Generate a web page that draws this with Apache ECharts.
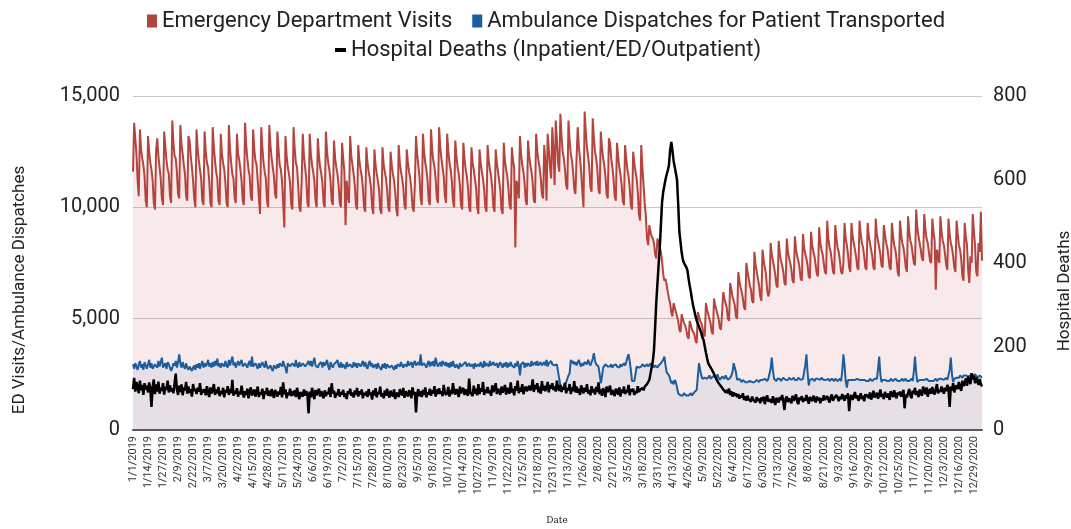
<!DOCTYPE html>
<html>
<head>
<meta charset="utf-8">
<script src="https://cdn.jsdelivr.net/npm/echarts@6/dist/echarts.min.js"></script>
<style>
  html, body { margin: 0; padding: 0; background: #fff; }
  #chart { width: 1071px; height: 529px; }
</style>
</head>
<body>
<div id="chart"></div>
<script>
// daily series, 1/1/2019 onward; one line per week (Mon..Sun), first line starts Tue 1/1/2019
const START = [2019, 0, 1];

const edVisits = [
  11600, 13800, 13100, 12400, 11200, 10500,
  13500, 12600, 12200, 11900, 11400, 10300, 10000,
  13200, 12500, 12000, 11700, 11200, 10200, 9900,
  12600, 13100, 12300, 11800, 11300, 10400, 10100,
  13400, 12700, 12100, 11700, 11500, 10500, 10200,
  13900, 12900, 12300, 12200, 11600, 10600, 10400,
  13700, 12800, 12400, 11900, 11500, 10500, 10300,
  13200, 13000, 12300, 11800, 11200, 10400, 10000,
  13500, 12600, 12100, 11700, 11300, 10300, 10100,
  13400, 12500, 12000, 11800, 11200, 10200, 10000,
  13600, 12700, 12100, 11600, 11300, 10300, 10100,
  13300, 12400, 12000, 11700, 11100, 10200, 10000,
  13700, 12600, 12000, 11500, 11300, 10400, 10200,
  13300, 12400, 12100, 11700, 11200, 10300, 10100,
  13800, 12800, 12200, 11700, 11400, 10500, 10300,
  13500, 12600, 12100, 11900, 11200, 10400, 9700,
  13600, 12700, 12000, 11600, 11300, 10300, 10000,
  13700, 12800, 12200, 11800, 11400, 10600, 10400,
  13400, 12600, 11900, 11700, 11200, 10200, 9100,
  13200, 12300, 11800, 11500, 11100, 10100, 9900,
  13600, 12600, 12000, 11800, 11000, 10000, 9800,
  11200, 13300, 12300, 11800, 11300, 10200, 10000,
  13300, 12400, 11900, 11600, 11200, 10300, 10000,
  13100, 12300, 11800, 11500, 11100, 10200, 10000,
  13400, 12500, 12000, 11700, 11200, 10300, 10100,
  13000, 12200, 11800, 11500, 11000, 10200, 10000,
  12900, 12200, 11600, 9200, 11200, 10500, 10200,
  13200, 12300, 11900, 11500, 11000, 10100, 9900,
  12800, 12100, 11700, 11400, 10900, 10000, 9800,
  12700, 12000, 11600, 11300, 10900, 10000, 9700,
  12600, 11900, 11500, 11200, 10800, 9900, 9700,
  12700, 11900, 11600, 11300, 10800, 10000, 9800,
  12500, 11900, 11500, 11200, 10700, 9900, 9600,
  12800, 12000, 11600, 11300, 10900, 10100, 9900,
  12600, 12000, 11600, 11300, 10800, 10000, 9800,
  11000, 13200, 12400, 11900, 11400, 10400, 10100,
  13300, 12500, 12000, 11700, 11200, 10300, 10100,
  13500, 12600, 12100, 11800, 11300, 10400, 10200,
  13600, 12700, 12200, 11800, 11400, 10500, 10200,
  13300, 12500, 12000, 11700, 11200, 10300, 10000,
  13000, 12300, 11800, 11500, 11000, 10100, 9900,
  12900, 12200, 11700, 11400, 10900, 10000, 9800,
  12700, 12000, 11700, 11300, 10900, 10000, 9700,
  12600, 12000, 11600, 11300, 10800, 10000, 9800,
  12800, 12100, 11700, 11400, 10900, 10000, 9800,
  12600, 12000, 11600, 11200, 10800, 9900, 9700,
  12900, 12100, 11700, 11400, 10900, 10100, 9900,
  12700, 12100, 11800, 8200, 11200, 10900, 10400,
  13200, 12400, 11900, 11600, 11100, 10300, 10100,
  13000, 12300, 11900, 11600, 11100, 10300, 10200,
  13300, 12500, 12100, 11800, 11300, 10600, 10400,
  12800, 12000, 10300, 13300, 12600, 11800, 11300,
  13600, 12500, 11000, 13900, 13000, 12000, 11600,
  14200, 13200, 12500, 12200, 11700, 11000, 10800,
  13900, 13000, 12400, 12100, 11600, 10800, 10600,
  12200, 13600, 12700, 12200, 11600, 10700, 10000,
  14300, 13400, 12700, 12300, 11800, 10900, 10700,
  14000, 13100, 12500, 12200, 11700, 10800, 10600,
  13400, 12700, 12200, 11900, 11400, 10600, 10400,
  13100, 12900, 12200, 11800, 11300, 10500, 10300,
  12900, 12300, 11800, 11500, 11000, 10300, 10100,
  12800, 12200, 11700, 11400, 10900, 10100, 9900,
  12500, 12000, 11600, 11300, 10700, 9700, 9400,
  12800, 11800, 11000, 10200, 9600, 8600, 8300,
  9200, 8900, 8700, 8600, 8400, 7900, 7700,
  8600, 8400, 8200, 8000, 7600, 7000, 6700,
  6800, 6500, 6200, 5900, 5700, 5300, 5100,
  5700, 5500, 5300, 5100, 4900, 4500, 4400,
  5200, 5000, 4800, 4700, 4500, 4200, 4100,
  4900, 4700, 4500, 4400, 4300, 4000, 3900,
  5300, 5100, 4900, 4800, 4600, 4300, 4200,
  5700, 5400, 5200, 5000, 4800, 4400, 4300,
  5900, 5600, 5400, 5200, 5000, 4600, 4500,
  5300, 6200, 5900, 5700, 5500, 5000, 4900,
  6600, 6300, 6000, 5800, 5600, 5100, 5000,
  7100, 6700, 6400, 6200, 5900, 5500, 5400,
  7500, 7100, 6800, 6500, 6300, 5800, 5700,
  8000, 7400, 7100, 6800, 6500, 6000, 5800,
  8100, 7600, 7300, 7000, 6300, 6000, 6200,
  8400, 7900, 7600, 7300, 7000, 6500, 6400,
  8500, 7900, 7600, 7400, 7100, 6600, 6500,
  8600, 8000, 7700, 7500, 7200, 6700, 6600,
  8700, 8100, 7800, 7600, 7300, 6800, 6700,
  8800, 8200, 7900, 7700, 7400, 6900, 6800,
  8900, 8300, 8000, 7800, 7400, 7000, 6900,
  9100, 8400, 8100, 7900, 7500, 7100, 7000,
  9400, 8600, 8200, 8000, 7600, 7100, 7000,
  9200, 8600, 8200, 8000, 7600, 7100, 7000,
  7500, 9300, 8600, 8300, 7900, 7300, 7100,
  9300, 8700, 8400, 8100, 7800, 7300, 7200,
  9400, 8800, 8400, 8200, 7800, 7300, 7200,
  9300, 8700, 8400, 8100, 7800, 7300, 7200,
  9500, 8800, 8500, 8200, 7900, 7400, 7300,
  9200, 8800, 8400, 8200, 7800, 7300, 7200,
  9300, 8700, 8300, 8100, 7700, 7100, 6900,
  9400, 8800, 8400, 8200, 7800, 7300, 7100,
  9600, 8900, 8500, 8300, 7900, 7500, 7400,
  9900, 9100, 8700, 8400, 8100, 7700, 7600,
  9700, 9000, 8600, 8400, 8000, 7600, 7500,
  9500, 8900, 8500, 6300, 8100, 7800, 7500,
  9600, 8900, 8500, 8300, 7900, 7400, 7200,
  9500, 8800, 8400, 8200, 7800, 7300, 7100,
  9400, 8800, 8300, 8100, 7700, 6900, 6700,
  9300, 8700, 8300, 7200, 6600, 7800, 7500,
  9700, 8900, 8300, 7100, 6900, 8400, 8000,
  9800, 7600
];

const ambulance = [
  2950, 2750, 3000, 2850, 2700, 2950,
  3100, 2800, 2950, 2700, 3050, 2900, 2750,
  2950, 3150, 2800, 3000, 2750, 2700, 2950,
  3000, 2800, 3100, 2850, 3050, 3250, 2800,
  2850, 3000, 2750, 3050, 2950, 2800, 2650,
  2800, 3000, 2900, 3100, 2800, 3050, 3400,
  3000, 2800, 3050, 2850, 2750, 3000, 2800,
  2700, 2850, 2750, 2650, 2800, 2900, 2700,
  2950, 2800, 3000, 2750, 2950, 3100, 2800,
  3000, 2850, 2950, 3150, 2850, 3000, 2800,
  3050, 2850, 3100, 2900, 3200, 2850, 3000,
  2800, 3000, 3050, 2850, 3100, 2900, 2800,
  3150, 2900, 2950, 3300, 2900, 3050, 2800,
  2850, 3100, 2900, 3050, 3150, 2850, 2800,
  3000, 2950, 2800, 3000, 3100, 2850, 3300,
  2850, 2800, 3000, 3050, 2750, 3000, 2800,
  2950, 3050, 2900, 2800, 3100, 2850, 2750,
  2700, 2900, 2750, 2650, 2900, 2950, 2750,
  2950, 2800, 3000, 3050, 2850, 3100, 2900,
  2800, 2550, 3000, 3050, 2850, 2800, 3000,
  3050, 2850, 3150, 2900, 2800, 3050, 2850,
  2800, 3000, 3050, 2850, 2800, 3000, 3100,
  2900, 3100, 2850, 3050, 3250, 2900, 2850,
  2800, 2950, 2900, 3050, 2800, 3050, 2900,
  3000, 3150, 2850, 2700, 3050, 2900, 2800,
  2950, 2900, 3050, 3150, 2900, 2800, 3050,
  2800, 2950, 2900, 2750, 3050, 2850, 2800,
  2950, 2900, 2800, 3050, 2850, 3000, 2800,
  3000, 3050, 2850, 2800, 3100, 2850, 3050,
  2850, 2750, 3000, 3100, 2850, 3000, 2800,
  2800, 2950, 2750, 3000, 2850, 2800, 2700,
  2950, 2800, 3000, 2750, 2950, 3000, 2800,
  2750, 2900, 2850, 2700, 2900, 2750, 2950,
  3000, 2850, 3050, 2900, 2800, 2950, 3000,
  2850, 3100, 2900, 2850, 3050, 2800, 3000,
  3100, 2900, 2850, 3050, 2900, 3400, 2900,
  2850, 3000, 3050, 2800, 3000, 3100, 2850,
  3050, 2900, 3100, 2850, 3250, 3000, 2850,
  2900, 3050, 2850, 3100, 3000, 2900, 3050,
  2850, 3000, 2800, 3050, 2850, 3100, 2900,
  2800, 2950, 3000, 2750, 3000, 2850, 2800,
  2950, 2900, 3050, 2850, 2800, 3000, 2850,
  2800, 2950, 2750, 3000, 2850, 2800, 2950,
  2850, 3050, 2900, 2800, 3100, 2850, 3000,
  3050, 2850, 3100, 2900, 2850, 3050, 2900,
  2850, 3000, 2800, 2950, 3050, 2900, 2800,
  3000, 2850, 3050, 2800, 3000, 2850, 3050,
  2900, 2950, 2800, 3000, 2850, 3100, 2900,
  2450, 2950, 2900, 3050, 2800, 3000, 2850,
  3000, 2950, 2850, 3100, 2900, 2850, 3050,
  2900, 3100, 2900, 2850, 3050, 2900, 2850,
  3050, 2900, 3150, 2850, 3000, 2950, 3100,
  2950, 3000, 2900, 2850, 2950, 2600, 2300,
  2000, 1900, 1950, 1900, 2050, 2150, 2300,
  2450, 2550, 3150, 3000, 3100, 2950, 3050,
  2900, 3050, 3150, 2950, 2850, 3000, 2900,
  3050, 3100, 2950, 3150, 3000, 2900, 3050,
  3200, 3450, 3100, 2950, 3000, 2850, 2500,
  2100, 2400, 2800, 2850, 2950, 2900, 2850,
  2900, 2850, 2950, 2800, 2900, 2850, 2950,
  2850, 2900, 2800, 2950, 2850, 2900, 3000,
  2900, 3050, 3250, 3400, 3100, 2700, 2200,
  2150, 2200, 2500, 2850, 2900, 2800, 2850,
  2850, 2950, 3000, 2850, 2900, 2950, 2850,
  2900, 3000, 2850, 2950, 2800, 2900, 2850,
  2800, 2900, 2950, 3000, 3050, 3150, 3300,
  2900, 2600, 2550, 2450, 2300, 2100, 2200,
  2050, 2250, 2150, 1900, 1650, 1600, 1550,
  1600, 1550, 1650, 1600, 1550, 1600, 1550,
  1600, 1650, 1550, 1600, 1700, 1650, 1800,
  2400, 3000, 2700, 2450, 2300, 2250, 2350,
  2400, 2300, 2350, 2450, 2300, 2250, 2400,
  2350, 2400, 2300, 2500, 2350, 2250, 2300,
  2400, 2350, 2300, 2450, 2400, 2250, 2300,
  2350, 2450, 2600, 3000, 3050, 2600, 2250,
  2200, 2300, 2250, 2150, 2250, 2200, 2150,
  2200, 2150, 2100, 2200, 2250, 2150, 2100,
  2150, 2200, 2250, 2200, 2150, 2250, 2200,
  2250, 2200, 2300, 2250, 2200, 2300, 2250,
  2750, 3250, 2700, 2300, 2250, 2200, 2300,
  2250, 2300, 2200, 2250, 2350, 2300, 2250,
  2300, 2250, 2350, 2300, 2250, 2300, 2350,
  2250, 2300, 2250, 2350, 2300, 2250, 2300,
  2300, 2350, 2900, 3400, 2600, 2000, 2250,
  2250, 2300, 2250, 2200, 2300, 2250, 2300,
  2300, 2250, 2350, 2300, 2250, 2200, 2250,
  2250, 2300, 2200, 2250, 2300, 2250, 2200,
  2300, 2250, 2200, 2250, 2300, 2200, 2650,
  3400, 2900, 2200, 1900, 2250, 2300, 2250,
  2200, 2250, 2300, 2250, 2200, 2300, 2250,
  2250, 2300, 2250, 2200, 2250, 2300, 2200,
  2250, 2200, 2300, 2250, 2200, 2250, 2300,
  2250, 2300, 2750, 3300, 2500, 2150, 2250,
  2200, 2250, 2300, 2200, 2250, 2200, 2300,
  2250, 2200, 2250, 2300, 2250, 2200, 2250,
  2200, 2250, 2300, 2200, 2250, 2300, 2200,
  2250, 2200, 2250, 2300, 2200, 2650, 3300,
  2600, 2150, 2200, 2250, 2200, 2250, 2300,
  2250, 2200, 2300, 2250, 2200, 2250, 2200,
  2250, 2200, 2250, 2300, 2200, 2250, 2300,
  2250, 2300, 2350, 2250, 2300, 2350, 2250,
  2300, 2700, 3250, 2500, 2150, 2300, 2350,
  2350, 2400, 2350, 2450, 2400, 2350, 2450,
  2400, 2450, 2500, 2400, 2350, 2450, 2500,
  2450, 2400, 2500, 2450, 2350, 2400, 2450,
  2400, 2350
];

const deaths = [
  98, 125, 92, 115, 104, 88,
  118, 95, 108, 84, 112, 97, 106,
  90, 114, 99, 55, 103, 121, 86,
  109, 92, 116, 87, 101, 94, 112,
  85, 104, 96, 118, 90, 107, 93,
  100, 88, 112, 135, 97, 84, 106,
  91, 109, 83, 102, 95, 115, 87,
  104, 89, 98, 80, 110, 93, 99,
  86, 101, 92, 112, 84, 97, 90,
  98, 83, 105, 90, 79, 102, 88,
  95, 110, 84, 97, 88, 103, 81,
  93, 86, 101, 78, 96, 90, 105,
  84, 98, 88, 120, 82, 94, 87,
  100, 80, 92, 85, 106, 89, 78,
  93, 84, 99, 76, 91, 102, 83,
  88, 97, 80, 92, 104, 79, 90,
  85, 99, 74, 93, 86, 101, 82,
  94, 81, 98, 87, 77, 96, 89,
  80, 92, 85, 103, 78, 114, 86,
  97, 76, 90, 84, 99, 81, 93,
  83, 95, 79, 101, 86, 74, 91,
  88, 80, 97, 82, 93, 85, 40,
  92, 78, 101, 85, 74, 96, 83,
  87, 99, 80, 93, 84, 76, 95,
  81, 91, 86, 102, 79, 112, 88,
  94, 77, 89, 83, 98, 80, 91,
  85, 96, 79, 88, 74, 93, 86,
  99, 82, 90, 78, 95, 84, 101,
  80, 93, 85, 97, 76, 89, 83,
  92, 79, 98, 84, 90, 73, 95,
  83, 100, 78, 91, 86, 104, 80,
  88, 76, 95, 82, 99, 85, 78,
  94, 86, 80, 97, 74, 90, 84,
  79, 98, 88, 83, 101, 77, 93,
  86, 80, 95, 89, 76, 102, 84,
  91, 42, 87, 98, 81, 93, 79,
  96, 84, 102, 78, 90, 85, 99,
  82, 95, 88, 105, 80, 97, 86,
  100, 87, 93, 81, 108, 90, 84,
  89, 103, 80, 96, 86, 112, 92,
  85, 98, 91, 79, 104, 88, 95,
  101, 84, 97, 89, 82, 123, 90,
  94, 81, 106, 87, 99, 83, 110,
  86, 100, 92, 115, 84, 97, 89,
  103, 88, 95, 82, 107, 91, 98,
  112, 86, 99, 93, 84, 104, 90,
  96, 108, 85, 101, 92, 87, 114,
  90, 99, 83, 105, 94, 118, 88,
  101, 92, 110, 86, 97, 104, 93,
  89, 106, 95, 100, 121, 91, 108,
  98, 112, 90, 104, 87, 117, 95,
  106, 93, 101, 115, 90, 108, 99,
  112, 96, 104, 92, 118, 101, 94,
  108, 91, 103, 97, 113, 88, 100,
  95, 110, 86, 102, 93, 117, 90,
  104, 89, 99, 84, 107, 96, 88,
  101, 92, 110, 87, 96, 83, 105,
  90, 98, 85, 103, 91, 114, 86,
  97, 82, 100, 93, 79, 104, 91,
  88, 106, 84, 96, 90, 81, 99,
  93, 85, 102, 80, 97, 89, 104,
  86, 95, 90, 108, 83, 98, 92,
  99, 84, 93, 88, 105, 91, 96,
  92, 101, 95, 104, 100, 110, 115,
  120, 135, 150, 165, 190, 245, 305,
  350, 395, 435, 490, 545, 570, 585,
  600, 612, 622, 635, 670, 690, 670,
  645, 630, 615, 598, 540, 475, 450,
  425, 408, 400, 395, 390, 382, 362,
  345, 330, 312, 297, 285, 272, 262,
  255, 247, 240, 232, 222, 215, 200,
  185, 172, 160, 155, 150, 145, 140,
  136, 128, 122, 118, 112, 108, 105,
  106, 97, 101, 90, 96, 88, 99,
  84, 93, 80, 90, 82, 88, 79,
  86, 75, 83, 78, 88, 72, 81,
  70, 82, 74, 78, 68, 80, 73,
  77, 66, 79, 70, 75, 64, 78,
  69, 80, 62, 75, 83, 68, 74,
  78, 65, 81, 70, 60, 77, 71,
  66, 79, 72, 84, 68, 48, 75,
  80, 67, 76, 71, 64, 82, 70,
  73, 85, 68, 62, 78, 72, 81,
  67, 76, 70, 84, 73, 63, 79,
  75, 69, 82, 74, 66, 80, 71,
  78, 64, 76, 70, 83, 72, 68,
  81, 73, 66, 79, 85, 70, 76,
  72, 84, 77, 69, 80, 74, 86,
  79, 70, 83, 75, 88, 45, 78,
  84, 72, 80, 91, 76, 83, 70,
  77, 88, 74, 82, 69, 86, 79,
  85, 76, 90, 73, 81, 94, 78,
  80, 89, 75, 84, 97, 79, 86,
  74, 91, 83, 78, 88, 72, 93,
  87, 79, 95, 82, 76, 90, 84,
  92, 80, 87, 96, 52, 85, 78,
  89, 98, 83, 76, 94, 87, 101,
  84, 93, 79, 97, 88, 82, 104,
  95, 86, 102, 80, 91, 99, 87,
  103, 90, 85, 98, 110, 88, 96,
  91, 104, 96, 87, 101, 93, 108,
  99, 55, 104, 95, 112, 90, 102,
  107, 98, 115, 102, 94, 118, 105,
  112, 124, 106, 128, 116, 110, 136,
  121, 130, 112, 126, 117, 108, 122,
  110, 104
];

const seriesNames = [
  'Emergency Department Visits',
  'Ambulance Dispatches for Patient Transported',
  'Hospital Deaths (Inpatient/ED/Outpatient)'
];

if (edVisits.length !== ambulance.length || edVisits.length !== deaths.length) {
  throw new Error('length mismatch ' + edVisits.length + ' ' + ambulance.length + ' ' + deaths.length);
}

// category labels: one date per data point
const dates = [];
for (let i = 0; i < edVisits.length; i++) {
  const d = new Date(Date.UTC(START[0], START[1], START[2] + i));
  dates.push((d.getUTCMonth() + 1) + '/' + d.getUTCDate() + '/' + d.getUTCFullYear());
}

const FONT = 'Roboto, "Noto Sans", sans-serif';
const chart = echarts.init(document.getElementById('chart'), null, { renderer: 'canvas' });

chart.setOption({
  animation: false,
  backgroundColor: '#fff',
  grid: { left: 133, right: 89, top: 96, bottom: 99 },
  legend: [
    {
      top: 5, left: 142, itemGap: 20,
      itemWidth: 10, itemHeight: 13,
      textStyle: { fontFamily: FONT, fontSize: 22, color: '#222' },
      data: [
        { name: seriesNames[0], icon: 'rect', itemStyle: { color: '#b5443f' } },
        { name: seriesNames[1], icon: 'rect', itemStyle: { color: '#1c5d9e' } }
      ]
    },
    {
      top: 34, left: 330,
      itemWidth: 11, itemHeight: 4,
      textStyle: { fontFamily: FONT, fontSize: 22, color: '#222' },
      data: [{ name: seriesNames[2], icon: 'rect', itemStyle: { color: '#000' } }]
    }
  ],
  xAxis: {
    type: 'category',
    data: dates,
    boundaryGap: false,
    axisLine: { lineStyle: { color: '#555', width: 2 } },
    axisTick: { show: false },
    axisLabel: {
      interval: 12, rotate: 90, margin: 6,
      fontFamily: FONT, fontSize: 11, color: '#333'
    },
    splitLine: { show: false }
  },
  yAxis: [
    {
      type: 'value', min: 0, max: 15000, interval: 5000,
      axisLine: { show: false }, axisTick: { show: false },
      axisLabel: {
        margin: 13, fontFamily: FONT, fontSize: 20, color: '#222',
        formatter: v => v.toLocaleString('en-US')
      },
      splitLine: { lineStyle: { color: '#c8c8c8', width: 1 } }
    },
    {
      type: 'value', min: 0, max: 800, interval: 200,
      axisLine: { show: false }, axisTick: { show: false },
      axisLabel: { margin: 11, fontFamily: FONT, fontSize: 20, color: '#222' },
      splitLine: { show: false }
    }
  ],
  graphic: [
    {
      type: 'text', x: 20, y: 290, rotation: Math.PI / 2,
      style: {
        text: 'ED Visits/Ambulance Dispatches', fontFamily: FONT, fontSize: 17,
        fill: '#222', align: 'center', verticalAlign: 'middle'
      }
    },
    {
      type: 'text', x: 1065, y: 291, rotation: Math.PI / 2,
      style: {
        text: 'Hospital Deaths', fontFamily: FONT, fontSize: 17,
        fill: '#222', align: 'center', verticalAlign: 'middle'
      }
    },
    {
      type: 'text', x: 557, y: 521,
      style: {
        text: 'Date', fontFamily: '"DejaVu Serif", "Liberation Serif", serif', fontSize: 9,
        fill: '#222', align: 'center', verticalAlign: 'middle'
      }
    }
  ],
  series: [
    {
      name: seriesNames[0], type: 'line', data: edVisits,
      showSymbol: false, z: 2,
      lineStyle: { color: '#b5443f', width: 2 },
      itemStyle: { color: '#b5443f' },
      areaStyle: { color: 'rgba(190, 70, 70, 0.16)' }
    },
    {
      name: seriesNames[1], type: 'line', data: ambulance,
      showSymbol: false, z: 3,
      lineStyle: { color: '#1c5d9e', width: 2 },
      itemStyle: { color: '#1c5d9e' },
      areaStyle: { color: 'rgba(96, 131, 197, 0.15)' }
    },
    {
      name: seriesNames[2], type: 'line', data: deaths, yAxisIndex: 1,
      showSymbol: false, z: 4,
      lineStyle: { color: '#000', width: 2.5 },
      itemStyle: { color: '#000' }
    }
  ]
});
</script>
</body>
</html>
